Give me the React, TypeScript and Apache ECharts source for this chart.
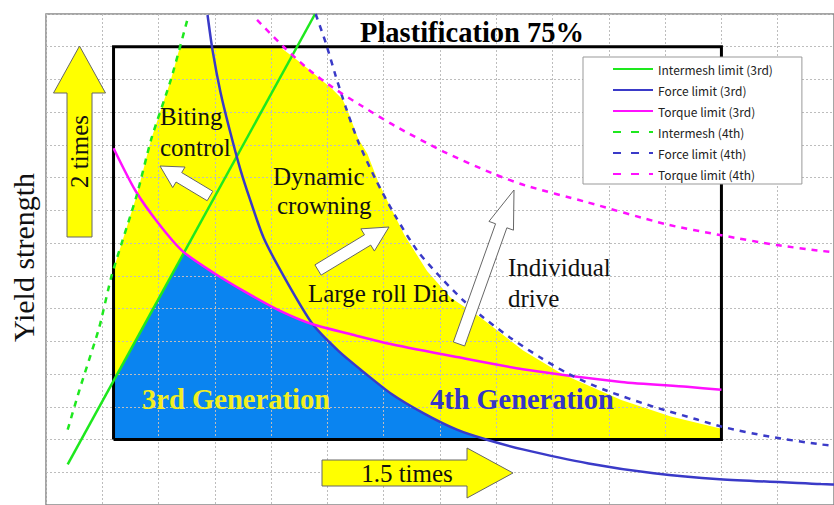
import React, { useEffect, useRef } from "react";
import * as echarts from "echarts";

// Curves in chart units (x: 0..14, y: 0..15)
const INTERMESH_3RD = [[0.385, 1.24], [4.78, 15]];
const FORCE_3RD = [
  [2.87, 14.97], [2.96, 13.88], [3.1, 12.61], [3.26, 11.48], [3.45, 10.27], [3.62, 9.36], [3.87, 8.15],
  [4.27, 6.85], [4.74, 5.52], [5.2, 4.7], [5.58, 4.15], [6.14, 3.39], [6.72, 2.79], [7.3, 2.3],
  [7.82, 2.0], [8.47, 1.7], [9.64, 1.27], [10.8, 0.97], [11.97, 0.79], [13.77, 0.64], [14.2, 0.61],
];
const TORQUE_3RD = [
  [1.2, 10.9], [1.59, 9.6], [2.0, 8.6], [2.43, 7.75], [2.99, 7.08], [3.57, 6.48], [4.15, 5.94],
  [4.74, 5.52], [5.5, 5.18], [6.14, 4.91], [7.3, 4.52], [8.47, 4.15], [10.22, 3.76], [11.39, 3.61], [12.0, 3.52],
];
const INTERMESH_4TH = [
  [0.385, 2.3], [0.595, 3.52], [0.945, 5.42], [1.17, 7.03], [1.61, 9.45], [1.87, 11.18], [2.22, 13.0], [2.52, 14.88],
];
const FORCE_4TH = [
  [4.79, 15], [4.97, 14.12], [5.15, 13.09], [5.32, 12.18], [5.55, 11.09], [5.85, 9.97], [6.2, 8.85],
  [6.6, 7.76], [7.02, 6.94], [7.42, 6.24], [7.77, 5.73], [8.24, 5.12], [8.77, 4.52], [9.29, 4.0],
  [9.92, 3.52], [10.8, 3.0], [11.57, 2.61], [12.01, 2.39], [12.85, 2.09], [13.77, 1.85], [14.2, 1.78],
];
const TORQUE_4TH = [
  [3.75, 14.82], [4.22, 14.0], [4.67, 13.3], [5.09, 12.76], [5.62, 12.18], [6.2, 11.58], [7.07, 10.79],
  [7.95, 10.12], [8.52, 9.76], [9.57, 9.27], [11.01, 8.58], [12.0, 8.24], [12.99, 7.94], [13.79, 7.76], [14.2, 7.68],
];
const FRAME = [[1.2, 2], [1.2, 14], [12, 14], [12, 2], [1.2, 2]];
const REGION_4TH = [
  [1.2, 2], [1.2, 7.2], [1.61, 9.45], [1.87, 11.18], [2.22, 13], [2.38, 14], [4.15, 14],
  [4.45, 13.61], [4.8, 13.12], [5.09, 12.7], [5.27, 12.39], [5.37, 12.0], [5.55, 11.18], [5.71, 10.73],
  [5.9, 9.88], [6.02, 9.45], [6.37, 8.24], [6.77, 7.15], [7.19, 6.33], [7.72, 5.73], [8.47, 4.73],
  [9.17, 4.0], [10.22, 3.21], [11.1, 2.7], [12.0, 2.33], [12, 2],
];
const REGION_3RD = [
  [1.2, 2], [1.2, 3.79], [2.45, 7.7], [2.99, 7.08], [3.57, 6.48], [4.15, 5.94], [4.74, 5.52],
  [5.2, 4.7], [5.58, 4.15], [6.14, 3.39], [6.72, 2.79], [7.3, 2.3], [7.82, 2.0],
];
const LEGEND_NAMES = [
  "Intermesh limit (3rd)", "Force limit (3rd)", "Torque limit (3rd)",
  "Intermesh (4th)", "Force limit (4th)", "Torque limit (4th)",
];

const SERIF = "'Liberation Serif', 'Times New Roman', serif";

function arrow(tail: number[], tip: number[], sw: number, hw: number, hl: number) {
  const dx = tip[0] - tail[0];
  const dy = tip[1] - tail[1];
  const len = Math.hypot(dx, dy);
  const ux = dx / len, uy = dy / len;
  const nx = -uy, ny = ux;
  const bx = tip[0] - ux * hl, by = tip[1] - uy * hl;
  return [
    [tail[0] + nx * sw, tail[1] + ny * sw],
    [bx + nx * sw, by + ny * sw],
    [bx + nx * hw, by + ny * hw],
    [tip[0], tip[1]],
    [bx - nx * hw, by - ny * hw],
    [bx - nx * sw, by - ny * sw],
    [tail[0] - nx * sw, tail[1] - ny * sw],
  ];
}

function txt(text: string, x: number, y: number, fontSize: number, extra: any = {}) {
  const { rotation, ...style } = extra;
  return {
    type: "text",
    x,
    y,
    rotation: rotation || 0,
    z: 20,
    style: {
      text,
      fontFamily: SERIF,
      fontSize,
      fill: "#111",
      align: "left",
      verticalAlign: "middle",
      ...style,
    },
  };
}

function regionSeries(points: number[][], color: string) {
  return {
    type: "custom",
    z: 1,
    silent: true,
    data: [[0, 0]],
    renderItem: (_p: any, api: any) => ({
      type: "polygon",
      shape: { points: points.map((p) => api.coord(p)) },
      style: { fill: color },
    }),
  };
}

function lineSeries(name: string, data: number[][], color: string, dashed: boolean, smooth: number | boolean) {
  return {
    name,
    type: "line",
    data,
    smooth,
    symbol: "none",
    z: 6,
    color,
    lineStyle: { color, width: 2.5, type: dashed ? [6, 6] : "solid" },
  };
}

export default function App() {
  const ref = useRef<HTMLDivElement>(null);
  useEffect(() => {
    if (!ref.current) return;
    const chart = echarts.init(ref.current, undefined, { renderer: "svg" });
    const arrowStyle = { stroke: "#666", lineWidth: 1 };
    chart.setOption({
      animation: false,
      backgroundColor: "#fff",
      grid: { left: 46, top: 14, right: -12, bottom: -4, show: true, borderColor: "#888", borderWidth: 1.5 },
      xAxis: {
        type: "value", min: 0, max: 14, interval: 1, z: 3,
        axisLine: { show: false }, axisTick: { show: false }, axisLabel: { show: false },
        splitLine: { show: true, lineStyle: { color: "#bdbdbd", type: [2, 2], width: 1 } },
      },
      yAxis: {
        type: "value", min: 0, max: 15, interval: 1, z: 3,
        axisLine: { show: false }, axisTick: { show: false }, axisLabel: { show: false },
        splitLine: { show: true, lineStyle: { color: "#bdbdbd", type: [2, 2], width: 1 } },
      },
      legend: {
        data: LEGEND_NAMES.map((name, i) => (i < 3 ? { name } : { name, lineStyle: { type: [8, 10] } })),
        orient: "vertical",
        left: 583,
        top: 57,
        padding: [6, 29, 4, 29],
        itemWidth: 40,
        itemHeight: 14,
        itemGap: 9,
        backgroundColor: "#fff",
        borderColor: "#999",
        borderWidth: 1,
        z: 10,
        itemStyle: { opacity: 0 },
        textStyle: { fontFamily: "'Noto Sans CJK JP', 'Noto Sans', sans-serif", fontSize: 12, color: "#222" },
      },
      series: [
        regionSeries(REGION_4TH, "#ffff00"),
        regionSeries(REGION_3RD, "#0a84f0"),
        {
          type: "line", data: FRAME, symbol: "none", z: 5, silent: true,
          lineStyle: { color: "#000", width: 3, join: "miter" },
        },
        lineSeries(LEGEND_NAMES[0], INTERMESH_3RD, "#1ee81e", false, false),
        lineSeries(LEGEND_NAMES[1], FORCE_3RD, "#3a3ac8", false, 0.25),
        lineSeries(LEGEND_NAMES[2], TORQUE_3RD, "#ff10ff", false, 0.25),
        lineSeries(LEGEND_NAMES[3], INTERMESH_4TH, "#1ee81e", true, 0.2),
        lineSeries(LEGEND_NAMES[4], FORCE_4TH, "#3a3ac8", true, 0.25),
        lineSeries(LEGEND_NAMES[5], TORQUE_4TH, "#ff10ff", true, 0.25),
      ],
      graphic: [
        { type: "polygon", z: 15, shape: { points: arrow([79.5, 237], [79.5, 46], 12.5, 26, 47) }, style: { fill: "#ffff00", ...arrowStyle } },
        { type: "polygon", z: 15, shape: { points: arrow([322, 473], [513, 473], 13, 25, 46) }, style: { fill: "#ffff00", ...arrowStyle } },
        { type: "polygon", z: 15, shape: { points: arrow([210, 196], [160, 166], 5.5, 12, 22) }, style: { fill: "#fff", ...arrowStyle } },
        { type: "polygon", z: 15, shape: { points: arrow([318, 270], [389, 227], 6, 13, 25) }, style: { fill: "#fff", ...arrowStyle } },
        { type: "polygon", z: 15, shape: { points: arrow([459, 344], [514, 190], 6, 13, 38) }, style: { fill: "#fff", ...arrowStyle } },
        txt("Plastification 75%", 360, 32.3, 28.5, { fontWeight: "bold", fill: "#000" }),
        txt("Biting", 160, 116.5, 25),
        txt("control", 160, 147.5, 25),
        txt("Dynamic", 273, 176.5, 25),
        txt("crowning", 277, 205.5, 25),
        txt("Large roll Dia.", 308, 293.5, 25),
        txt("Individual", 508, 267.5, 25),
        txt("drive", 508, 298.5, 25),
        txt("3rd Generation", 142, 399.3, 28.6, { fontWeight: "bold", fill: "#f2ee22" }),
        txt("4th Generation", 430, 399.3, 28.4, { fontWeight: "bold", fill: "#3535c8" }),
        txt("2 times", 79.5, 151.5, 25, { align: "center", rotation: Math.PI / 2 }),
        txt("1.5 times", 407, 473.5, 25, { align: "center" }),
        txt("Yield strength", 23, 257.5, 30, { align: "center", rotation: Math.PI / 2 }),
      ],
    });
    return () => chart.dispose();
  }, []);
  return <div ref={ref} style={{ position: "fixed", left: 0, top: 0, width: 834, height: 505 }} />;
}
